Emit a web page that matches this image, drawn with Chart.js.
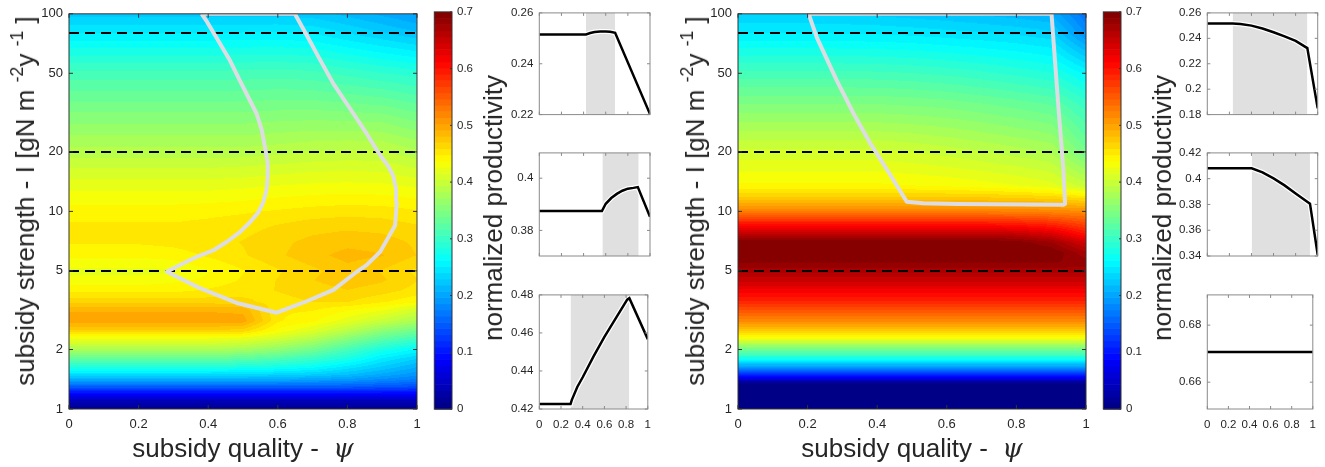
<!DOCTYPE html>
<html><head><meta charset="utf-8">
<script src="https://cdn.jsdelivr.net/npm/chart.js@4.4.1/dist/chart.umd.min.js"></script>
<style>
html,body{margin:0;padding:0;background:#fff;}
body{width:1325px;height:467px;position:relative;overflow:hidden;font-family:"Liberation Sans",Arial,Helvetica,sans-serif;color:#262626;}
canvas{position:absolute;display:block;}
.t{position:absolute;white-space:nowrap;font-size:26px;line-height:1;transform:translate(-50%,-50%);}
.r{transform:translate(-50%,-50%) rotate(-90deg);}
.psi{font-family:"DejaVu Serif",serif;font-style:italic;}
sup{font-size:0.68em;vertical-align:0.62em;line-height:0;}
</style></head><body>
<canvas id="hmL"></canvas><canvas id="cbL"></canvas>
<canvas id="pL1"></canvas><canvas id="pL2"></canvas><canvas id="pL3"></canvas>
<canvas id="hmR"></canvas><canvas id="cbR"></canvas>
<canvas id="pR1"></canvas><canvas id="pR2"></canvas><canvas id="pR3"></canvas>
<div class="t r" style="left:25px;top:201px">subsidy strength - I [gN m <sup>-2</sup>y <sup>-1</sup> ]</div>
<div class="t" style="left:243px;top:448px">subsidy quality -&nbsp; <span class="psi">ψ</span></div>
<div class="t r" style="left:493px;top:208px">normalized productivity</div>
<div class="t r" style="left:695px;top:201px">subsidy strength - I [gN m <sup>-2</sup>y <sup>-1</sup> ]</div>
<div class="t" style="left:912px;top:448px">subsidy quality -&nbsp; <span class="psi">ψ</span></div>
<div class="t r" style="left:1162px;top:208px">normalized productivity</div>
<script>
// ---------------- DATA ----------------
const qualityGrid = [0,0.1,0.2,0.3,0.4,0.5,0.6,0.7,0.8,0.9,1];
const qualityTicks = [0,0.2,0.4,0.6,0.8,1];
const strengthTicks = [1,2,5,10,20,50,100];
const colorbarTicks = [0,0.1,0.2,0.3,0.4,0.5,0.6,0.7];
const dashedStrengths = [80,20,5];

const strengthRowsLeft = [1,1.1,1.2,1.3,1.4,1.5,1.65,1.8,2,2.3,2.5,2.8,3.2,3.5,4,4.5,5,6,7,8.5,10,13,17,20,30,50,80,100];
const productivityLeft = [
 [0.01,0.01,0.01,0.01,0.01,0.01,0.01,0.01,0.01,0.01,0.01],
 [0.04,0.04,0.04,0.04,0.04,0.04,0.04,0.04,0.04,0.04,0.04],
 [0.09,0.09,0.09,0.09,0.09,0.09,0.09,0.09,0.09,0.09,0.09],
 [0.15,0.15,0.15,0.15,0.15,0.15,0.15,0.15,0.15,0.145,0.14],
 [0.2,0.2,0.2,0.2,0.2,0.2,0.2,0.195,0.19,0.18,0.17],
 [0.24,0.24,0.24,0.24,0.24,0.24,0.235,0.23,0.22,0.205,0.19],
 [0.29,0.29,0.29,0.29,0.29,0.285,0.28,0.27,0.25,0.23,0.21],
 [0.33,0.33,0.33,0.33,0.33,0.325,0.315,0.3,0.28,0.25,0.23],
 [0.38,0.38,0.38,0.38,0.38,0.375,0.36,0.34,0.31,0.28,0.26],
 [0.43,0.43,0.43,0.43,0.43,0.425,0.41,0.39,0.36,0.33,0.31],
 [0.47,0.47,0.47,0.47,0.47,0.465,0.435,0.415,0.39,0.36,0.34],
 [0.5,0.5,0.5,0.5,0.5,0.498,0.45,0.44,0.42,0.4,0.38],
 [0.49,0.49,0.49,0.49,0.49,0.488,0.45,0.45,0.44,0.43,0.41],
 [0.465,0.465,0.465,0.465,0.465,0.462,0.455,0.46,0.46,0.45,0.44],
 [0.445,0.445,0.445,0.445,0.45,0.455,0.46,0.465,0.47,0.465,0.455],
 [0.43,0.43,0.43,0.435,0.44,0.45,0.46,0.47,0.477,0.472,0.46],
 [0.4226,0.4226,0.4226,0.4245,0.4367,0.4477,0.4579,0.4673,0.4775,0.4694,0.4567],
 [0.44,0.44,0.44,0.443,0.45,0.458,0.468,0.478,0.485,0.482,0.47],
 [0.45,0.45,0.45,0.452,0.455,0.46,0.467,0.474,0.478,0.476,0.468],
 [0.45,0.45,0.45,0.45,0.452,0.455,0.46,0.465,0.467,0.465,0.46],
 [0.443,0.443,0.443,0.443,0.445,0.447,0.45,0.453,0.455,0.454,0.45],
 [0.425,0.425,0.425,0.425,0.425,0.427,0.43,0.432,0.433,0.432,0.428],
 [0.403,0.403,0.403,0.403,0.403,0.404,0.407,0.41,0.411,0.41,0.402],
 [0.3874,0.3874,0.3874,0.3874,0.3874,0.3874,0.3902,0.394,0.396,0.3956,0.3852],
 [0.355,0.355,0.355,0.355,0.355,0.355,0.357,0.358,0.357,0.355,0.345],
 [0.31,0.31,0.31,0.31,0.31,0.311,0.312,0.31,0.303,0.296,0.29],
 [0.2515,0.2515,0.2515,0.2515,0.2515,0.2525,0.2527,0.2507,0.2405,0.2304,0.2202],
 [0.225,0.225,0.225,0.225,0.225,0.226,0.226,0.224,0.215,0.205,0.195]
];

const strengthRowsRight = [1,1.3,1.37,1.45,1.55,1.65,1.76,1.9,2.04,2.3,2.6,2.9,3.4,3.9,4.5,5,5.5,6.2,7,7.6,8.5,9.9,11.5,13.5,20,35,50,80,100];
const productivityRight = [
 [0,0,0,0,0,0,0,0,0,0,0],
 [0,0,0,0,0,0,0,0,0,0,0],
 [0.02,0.02,0.02,0.02,0.02,0.02,0.02,0.02,0.02,0.02,0.02],
 [0.085,0.085,0.085,0.085,0.085,0.085,0.085,0.085,0.085,0.085,0.085],
 [0.15,0.15,0.15,0.15,0.15,0.15,0.15,0.15,0.15,0.15,0.15],
 [0.2,0.2,0.2,0.2,0.2,0.2,0.2,0.2,0.2,0.2,0.2],
 [0.26,0.26,0.26,0.26,0.26,0.26,0.26,0.26,0.26,0.26,0.26],
 [0.31,0.31,0.31,0.31,0.31,0.31,0.31,0.31,0.31,0.31,0.31],
 [0.35,0.35,0.35,0.35,0.35,0.35,0.35,0.35,0.35,0.35,0.35],
 [0.435,0.435,0.435,0.435,0.435,0.435,0.435,0.435,0.435,0.435,0.435],
 [0.49,0.49,0.49,0.49,0.49,0.49,0.49,0.49,0.49,0.49,0.49],
 [0.53,0.53,0.53,0.53,0.53,0.53,0.53,0.53,0.53,0.53,0.53],
 [0.58,0.58,0.58,0.58,0.58,0.58,0.58,0.58,0.58,0.58,0.58],
 [0.615,0.615,0.615,0.615,0.615,0.615,0.615,0.615,0.615,0.615,0.615],
 [0.65,0.65,0.65,0.65,0.65,0.65,0.65,0.65,0.65,0.65,0.65],
 [0.6706,0.6706,0.6706,0.6706,0.6706,0.6706,0.6706,0.6706,0.6706,0.6706,0.6706],
 [0.69,0.69,0.69,0.69,0.69,0.69,0.69,0.69,0.69,0.69,0.685],
 [0.705,0.705,0.705,0.705,0.705,0.705,0.705,0.705,0.703,0.7,0.67],
 [0.70,0.70,0.70,0.70,0.70,0.70,0.70,0.70,0.695,0.68,0.64],
 [0.665,0.665,0.665,0.665,0.665,0.665,0.665,0.665,0.66,0.645,0.605],
 [0.61,0.61,0.61,0.61,0.61,0.61,0.61,0.61,0.605,0.595,0.57],
 [0.53,0.53,0.53,0.53,0.53,0.53,0.53,0.53,0.528,0.525,0.52],
 [0.478,0.478,0.478,0.478,0.478,0.478,0.478,0.478,0.476,0.473,0.465],
 [0.44,0.44,0.44,0.44,0.44,0.438,0.436,0.432,0.427,0.42,0.4],
 [0.408,0.408,0.408,0.408,0.408,0.4049,0.4002,0.3948,0.3885,0.3825,0.341],
 [0.35,0.35,0.35,0.35,0.35,0.348,0.345,0.34,0.334,0.327,0.3],
 [0.31,0.31,0.31,0.31,0.309,0.307,0.303,0.298,0.292,0.285,0.26],
 [0.2516,0.2516,0.2516,0.2508,0.25,0.2477,0.2448,0.2416,0.238,0.2326,0.185],
 [0.23,0.23,0.23,0.229,0.227,0.224,0.221,0.217,0.213,0.207,0.165]
];

const boundaryLeftQuality = [0.381,0.396,0.424,0.463,0.491,0.52,0.539,0.554,0.563,0.571,0.571,0.568,0.558,0.544,0.52,0.491,0.453,0.415,0.367,0.319,0.281,0.376,0.482,0.597,0.683,0.76,0.827,0.855,0.894,0.937,0.942,0.94,0.932,0.918,0.903,0.884,0.855,0.817,0.76,0.718,0.682,0.649,0.381];
const boundaryLeftStrength = [100,91.5,75.6,57.8,45.9,36.4,31.3,25.8,21.3,17.6,15.1,12.9,11.1,9.89,8.81,7.85,7.0,6.36,5.89,5.35,4.95,4.09,3.44,3.07,3.51,4.01,4.95,5.35,6.24,8.48,11.1,12.9,15.1,16.9,18.3,20.5,24.8,31.3,44.2,60,78.5,100,100];
const boundaryRightQuality = [0.203,0.227,0.284,0.332,0.38,0.428,0.485,0.533,0.629,0.935,0.94,0.935,0.92,0.906,0.901,0.203];
const boundaryRightStrength = [100,75.5,45.9,31.3,22.1,16.3,11.2,11.0,10.9,10.8,10.9,16.3,35,75.5,100,100];

// side panels (productivity along the dashed lines I = 80, 20, 5)
const pL1Quality = [0,0.422,0.46,0.5,0.55,0.6,0.64,0.685,1];
const pL1Value   = [0.2515,0.2515,0.2521,0.2525,0.2527,0.2527,0.2526,0.2522,0.2202];
const pL1Shade = [0.422,0.684];
const pL1Range = [0.22,0.26];
const pL1Ticks = [0.22,0.24,0.26];

const pL2Quality = [0,0.566,0.6,0.65,0.7,0.75,0.8,0.85,0.89,1];
const pL2Value   = [0.3874,0.3874,0.3902,0.3924,0.394,0.3952,0.396,0.3963,0.3966,0.3852];
const pL2Shade = [0.57,0.898];
const pL2Range = [0.3702,0.4097];
const pL2Ticks = [0.38,0.4];

const pL3Quality = [0,0.288,0.3,0.35,0.4,0.5,0.6,0.7,0.81,0.83,1];
const pL3Value   = [0.4226,0.4226,0.4248,0.4316,0.4367,0.4477,0.4579,0.4673,0.4775,0.4783,0.4567];
const pL3Shade = [0.288,0.829];
const pL3Range = [0.42,0.48];
const pL3Ticks = [0.42,0.44,0.46,0.48];

const pR1Quality = [0,0.23,0.3,0.4,0.5,0.6,0.7,0.8,0.906,1];
const pR1Value   = [0.2516,0.2516,0.2512,0.25,0.2477,0.2448,0.2416,0.238,0.2323,0.185];
const pR1Shade = [0.23,0.906];
const pR1Range = [0.18,0.26];
const pR1Ticks = [0.18,0.2,0.22,0.24,0.26];

const pR2Quality = [0,0.402,0.5,0.6,0.7,0.8,0.93,1];
const pR2Value   = [0.408,0.408,0.4049,0.4002,0.3948,0.3885,0.3806,0.341];
const pR2Shade = [0.402,0.93];
const pR2Range = [0.34,0.42];
const pR2Ticks = [0.34,0.36,0.38,0.4,0.42];

const pR3Quality = [0,1];
const pR3Value   = [0.6706,0.6706];
const pR3Shade = null;
const pR3Range = [0.6506,0.6906];
const pR3Ticks = [0.66,0.68];

// ---------------- RENDERING ----------------
Chart.defaults.font.family = '"Liberation Sans", Arial, Helvetica, sans-serif';
Chart.defaults.color = '#262626';
Chart.defaults.animation = false;

const CMAX = 0.7, NLEV = 64;
function jet(t){const c=v=>Math.max(0,Math.min(1,v));return [c(1.5-Math.abs(4*t-3)),c(1.5-Math.abs(4*t-2)),c(1.5-Math.abs(4*t-1))];}
function levelRGB(v){let k=Math.floor(v/CMAX*NLEV);k=Math.max(0,Math.min(NLEV-1,k));return jet((k+0.5)/NLEV);}
function locate(arr,v){let i=0;while(i<arr.length-2&&v>arr[i+1])i++;let t=(v-arr[i])/(arr[i+1]-arr[i]);t=Math.max(0,Math.min(1,t));return [i,t];}

const heatPlugin = {
  id:'heat',
  beforeDatasetsDraw(chart,args,o){
    const {ctx,chartArea:a,scales}=chart;
    const W=Math.round(a.right-a.left),H=Math.round(a.bottom-a.top);
    const off=document.createElement('canvas');off.width=W;off.height=H;
    const octx=off.getContext('2d');const img=octx.createImageData(W,H);
    const logRows=o.rows.map(Math.log10);
    const cols=[];for(let px=0;px<W;px++){cols.push(locate(o.cols,scales.x.getValueForPixel(a.left+px+0.5)));}
    for(let py=0;py<H;py++){
      const [j,u]=locate(logRows,Math.log10(scales.y.getValueForPixel(a.top+py+0.5)));
      const r0=o.grid[j],r1=o.grid[j+1];
      for(let px=0;px<W;px++){
        const [i,t]=cols[px];
        const v=(1-u)*((1-t)*r0[i]+t*r0[i+1])+u*((1-t)*r1[i]+t*r1[i+1]);
        const c=levelRGB(v);const k=(py*W+px)*4;
        img.data[k]=Math.round(c[0]*255);img.data[k+1]=Math.round(c[1]*255);img.data[k+2]=Math.round(c[2]*255);img.data[k+3]=255;
      }
    }
    octx.putImageData(img,0,0);
    ctx.drawImage(off,a.left,a.top,a.right-a.left,a.bottom-a.top);
  }
};

const cbarPlugin = {
  id:'cbar',
  beforeDatasetsDraw(chart){
    const {ctx,chartArea:a,scales:{y}}=chart;
    for(let k=0;k<NLEV;k++){
      const v0=k/NLEV*CMAX,v1=(k+1)/NLEV*CMAX;
      const c=levelRGB((v0+v1)/2);
      ctx.fillStyle=`rgb(${Math.round(c[0]*255)},${Math.round(c[1]*255)},${Math.round(c[2]*255)})`;
      const p0=y.getPixelForValue(v0),p1=y.getPixelForValue(v1);
      ctx.fillRect(a.left,p1,a.right-a.left,p0-p1+0.6);
    }
  }
};

const framePlugin = {
  id:'frame',
  afterDatasetsDraw(chart,args,o){
    const {ctx,chartArea:a,scales}=chart;
    ctx.save();ctx.strokeStyle=o.color;ctx.lineWidth=1;ctx.beginPath();
    const L=o.len;
    (o.xTicks||[]).forEach(v=>{const p=scales.x.getPixelForValue(v);ctx.moveTo(p,a.bottom);ctx.lineTo(p,a.bottom-L);ctx.moveTo(p,a.top);ctx.lineTo(p,a.top+L);});
    (o.yTicks||[]).forEach(v=>{const p=scales.y.getPixelForValue(v);if(o.yLeft!==false){ctx.moveTo(a.left,p);ctx.lineTo(a.left+L,p);}ctx.moveTo(a.right,p);ctx.lineTo(a.right-L,p);});
    ctx.stroke();
    ctx.strokeRect(a.left,a.top,a.right-a.left,a.bottom-a.top);
    ctx.restore();
  }
};

function setupCanvas(id,left,top,w,h){const c=document.getElementById(id);c.width=w;c.height=h;c.style.left=left+'px';c.style.top=top+'px';c.style.width=w+'px';c.style.height=h+'px';return c;}
function zip(xs,ys){return xs.map((x,i)=>({x:x,y:ys[i]}));}
const fixTicks=arr=>(s)=>{s.ticks=arr.map(v=>({value:v}));};

function heatmap(id,left,rows,grid,bq,bs){
  const w=430,h=467,pl=69,pr=417,pt=9.5,pb=409;
  const ds=[];
  dashedStrengths.forEach(s=>ds.push({data:[{x:0,y:s},{x:1,y:s}],showLine:true,borderColor:'#000',borderWidth:2,borderDash:[10,6],pointRadius:0,order:2}));
  ds.push({data:zip(bq,bs),showLine:true,borderColor:'#dcdce2',borderWidth:4,pointRadius:0,tension:0,order:1,borderJoinStyle:'round'});
  new Chart(setupCanvas(id,left,0,w,h),{
    type:'scatter',data:{datasets:ds},
    plugins:[heatPlugin,framePlugin],
    options:{responsive:false,animation:false,
      layout:{padding:{left:0,top:pt,right:w-pr,bottom:0}},
      plugins:{legend:{display:false},tooltip:{enabled:false},
        heat:{rows:rows,cols:qualityGrid,grid:grid},
        frame:{color:'#333',len:4,xTicks:qualityTicks,yTicks:strengthTicks}},
      scales:{
        x:{type:'linear',min:0,max:1,afterBuildTicks:fixTicks(qualityTicks),afterFit:s=>{s.height=h-pb;},
           grid:{display:false,drawTicks:false},border:{display:false},
           ticks:{font:{size:13},color:'#262626',padding:8,maxRotation:0,autoSkip:false,callback:v=>String(v)}},
        y:{type:'logarithmic',min:1,max:100,afterBuildTicks:fixTicks(strengthTicks),afterFit:s=>{s.width=pl;},
           grid:{display:false,drawTicks:false},border:{display:false},
           ticks:{font:{size:13},color:'#262626',padding:6,autoSkip:false,callback:v=>String(v)}}
      }}
  });
}

function colorbar(id,left){
  const w=60,h=467,pl=9.3,pr=27,pt=9.5,pb=409;
  new Chart(setupCanvas(id,left,0,w,h),{
    type:'scatter',data:{datasets:[{data:[]}]},
    plugins:[cbarPlugin,framePlugin],
    options:{responsive:false,animation:false,
      layout:{padding:{left:pl,top:pt,right:0,bottom:h-pb}},
      plugins:{legend:{display:false},tooltip:{enabled:false},frame:{color:'#333',len:2,yTicks:colorbarTicks,yLeft:false}},
      scales:{
        x:{type:'linear',min:0,max:1,display:false},
        y:{type:'linear',position:'right',min:0,max:CMAX,afterBuildTicks:fixTicks(colorbarTicks),afterFit:s=>{s.width=w-pr;},
           grid:{display:false,drawTicks:false},border:{display:false},
           ticks:{font:{size:11.5},color:'#262626',padding:5,autoSkip:false,callback:v=>String(v)}}
      }}
  });
}

function panel(id,left,top,h,plot,q,v,shade,range,ticks,showX,w){
  const ds=[];
  if(shade) ds.push({data:[{x:shade[0],y:range[1]},{x:shade[1],y:range[1]}],showLine:true,fill:'start',backgroundColor:'#e0e0e0',borderWidth:0,pointRadius:0,order:3});
  ds.push({data:zip(q,v),showLine:true,borderColor:'#ffffff',borderWidth:5,pointRadius:0,order:2});
  ds.push({data:zip(q,v),showLine:true,borderColor:'#000000',borderWidth:2.5,pointRadius:0,order:1});
  new Chart(setupCanvas(id,left,top,w,h),{
    type:'scatter',data:{datasets:ds},
    plugins:[framePlugin],
    options:{responsive:false,animation:false,
      layout:{padding:{left:0,top:plot.t,right:w-plot.r,bottom:showX?0:h-plot.b}},
      plugins:{legend:{display:false},tooltip:{enabled:false},filler:{propagate:false},frame:{color:'#8a8a8a',len:3,xTicks:qualityTicks,yTicks:ticks}},
      scales:{
        x:{type:'linear',min:0,max:1,display:showX,afterBuildTicks:fixTicks(qualityTicks),afterFit:s=>{s.height=h-plot.b;},
           grid:{display:false,drawTicks:false},border:{display:false},
           ticks:{font:{size:11.5},color:'#262626',padding:9,maxRotation:0,autoSkip:false,callback:v=>String(v)}},
        y:{type:'linear',min:range[0],max:range[1],afterBuildTicks:fixTicks(ticks),afterFit:s=>{s.width=plot.l;},
           grid:{display:false,drawTicks:false},border:{display:false},
           ticks:{font:{size:11.5},color:'#262626',padding:6,autoSkip:false,callback:v=>String(+v.toFixed(3))}}
      }}
  });
}

heatmap('hmL',0,strengthRowsLeft,productivityLeft,boundaryLeftQuality,boundaryLeftStrength);
heatmap('hmR',669,strengthRowsRight,productivityRight,boundaryRightQuality,boundaryRightStrength);
colorbar('cbL',425);
colorbar('cbR',1094);

// left panel column: canvas x 495..660, plot 539.3..650
panel('pL1',495,0,140,{l:44.3,r:155,t:9.3,b:127.3},pL1Quality,pL1Value,pL1Shade,pL1Range,pL1Ticks,false,165);
panel('pL2',495,140,140,{l:44.3,r:155,t:10,b:128},pL2Quality,pL2Value,pL2Shade,pL2Range,pL2Ticks,false,165);
panel('pL3',495,282,185,{l:44.3,r:155,t:10,b:127},pL3Quality,pL3Value,pL3Shade,pL3Range,pL3Ticks,true,165);
// right panel column: canvas x 1163..1325, plot 1207.3..1317.7
panel('pR1',1163,0,140,{l:44.3,r:154.7,t:9.3,b:127.3},pR1Quality,pR1Value,pR1Shade,pR1Range,pR1Ticks,false,162);
panel('pR2',1163,140,140,{l:44.3,r:154.7,t:10,b:128},pR2Quality,pR2Value,pR2Shade,pR2Range,pR2Ticks,false,162);
panel('pR3',1163,282,185,{l:44.3,r:154.7,t:10,b:127},pR3Quality,pR3Value,pR3Shade,pR3Range,pR3Ticks,true,162);
</script>
</body></html>
